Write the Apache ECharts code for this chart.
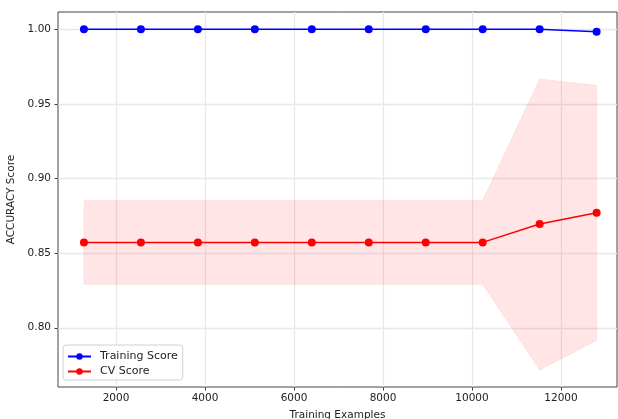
<!DOCTYPE html>
<html>
<head>
<meta charset="utf-8">
<script src="https://cdn.jsdelivr.net/npm/echarts@6/dist/echarts.min.js"></script>
<style>
  html, body { margin: 0; padding: 0; background: #fff; }
  #main { width: 618px; height: 419px; }
</style>
</head>
<body>
<div id="main"></div>
<script>
    // training set sizes
    const trainSizes = [1280, 2560, 3840, 5120, 6400, 7680, 8960, 10240, 11520, 12800];
    const trainScore = [1.0, 1.0, 1.0, 1.0, 1.0, 1.0, 1.0, 1.0, 1.0, 0.9983];
    const cvScore = [0.8572, 0.8572, 0.8572, 0.8572, 0.8572, 0.8572, 0.8572, 0.8572, 0.8695, 0.8770];
    // mean +/- std band of cv
    const cvLow = [0.8292, 0.8292, 0.8292, 0.8292, 0.8292, 0.8292, 0.8292, 0.8292, 0.7717, 0.7915];
    const cvHigh = [0.8852, 0.8852, 0.8852, 0.8852, 0.8852, 0.8852, 0.8852, 0.8852, 0.9667, 0.9625];
    const xTicks = [2000, 4000, 6000, 8000, 10000, 12000];
    const yTicks = [0.80, 0.85, 0.90, 0.95, 1.00];

    const pair = (ys) => trainSizes.map((x, i) => [x, ys[i]]);
    const fontFamily = 'DejaVu Sans';

    // 填充带：上沿 + 下沿反向，组成一个多边形
    function renderBand(params, api) {
        if (params.dataIndex !== 0) return;
        let upper = trainSizes.map((x, i) => api.coord([x, cvHigh[i]]));
        let lower = trainSizes.map((x, i) => api.coord([x, cvLow[i]])).reverse();
        return {
            type: 'polygon',
            shape: { points: upper.concat(lower) },
            style: {
                fill: 'rgba(255,0,0,0.1)',
                stroke: 'rgba(255,0,0,0.07)',
                lineWidth: 1
            },
            silent: true
        };
    }

    let myChart = echarts.init(document.getElementById('main'));
    myChart.setOption({
        animation: false,
        textStyle: { fontFamily: fontFamily },
        grid: {
            left: 58, right: 1, top: 12, bottom: 32,
            outerBoundsMode: 'none',
            containLabel: false,
            show: true,
            borderColor: '#444',
            borderWidth: 1
        },
        legend: {
            orient: 'vertical',
            left: 63,
            bottom: 39,
            data: ['Training Score', 'CV Score'],
            itemWidth: 23,
            itemHeight: 8,
            itemGap: 4,
            padding: [6, 5, 3, 4],
            borderColor: '#d0d0d0',
            borderWidth: 1,
            borderRadius: 3,
            backgroundColor: 'rgba(255,255,255,0.8)',
            textStyle: { fontSize: 11, color: '#222', fontFamily: fontFamily, padding: [0, 0, 0, 4] }
        },
        xAxis: {
            type: 'value',
            min: 697,
            max: 13258,
            name: 'Training Examples',
            nameLocation: 'middle',
            nameGap: 23,
            nameTextStyle: { fontSize: 10.5, color: '#222' },
            axisLine: { show: false },
            axisTick: { show: true, inside: false, length: 3.5, lineStyle: { color: '#444' }, customValues: xTicks },
            axisLabel: {
                fontSize: 10.5, color: '#222', margin: 6, customValues: xTicks,
                formatter: (v) => String(v)
            },
            splitLine: { show: true, lineStyle: { color: '#e8e8e8', width: 1.3 } }
        },
        yAxis: {
            type: 'value',
            min: 0.7603,
            max: 1.0116,
            name: 'ACCURACY Score',
            nameLocation: 'middle',
            nameGap: 32,
            nameTextStyle: { fontSize: 10.5, color: '#222' },
            axisLine: { show: false },
            axisTick: { show: true, inside: false, length: 3.5, lineStyle: { color: '#444' }, customValues: yTicks },
            axisLabel: {
                fontSize: 10.5, color: '#222', margin: 7, customValues: yTicks,
                formatter: (v) => v.toFixed(2)
            },
            splitLine: { show: true, lineStyle: { color: '#e8e8e8', width: 1.3 } }
        },
        series: [
            {
                name: 'cvBand',
                type: 'custom',
                renderItem: renderBand,
                data: pair(cvScore),
                silent: true,
                z: 1
            },
            {
                name: 'Training Score',
                type: 'line',
                data: pair(trainScore),
                symbol: 'circle',
                symbolSize: 8,
                color: '#0000ff',
                lineStyle: { color: '#0000ff', width: 1.5 },
                itemStyle: { color: '#0000ff' },
                z: 3
            },
            {
                name: 'CV Score',
                type: 'line',
                data: pair(cvScore),
                symbol: 'circle',
                symbolSize: 8,
                color: '#ff0000',
                lineStyle: { color: '#ff0000', width: 1.5 },
                itemStyle: { color: '#ff0000' },
                z: 3
            }
        ]
    });
</script>
</body>
</html>
